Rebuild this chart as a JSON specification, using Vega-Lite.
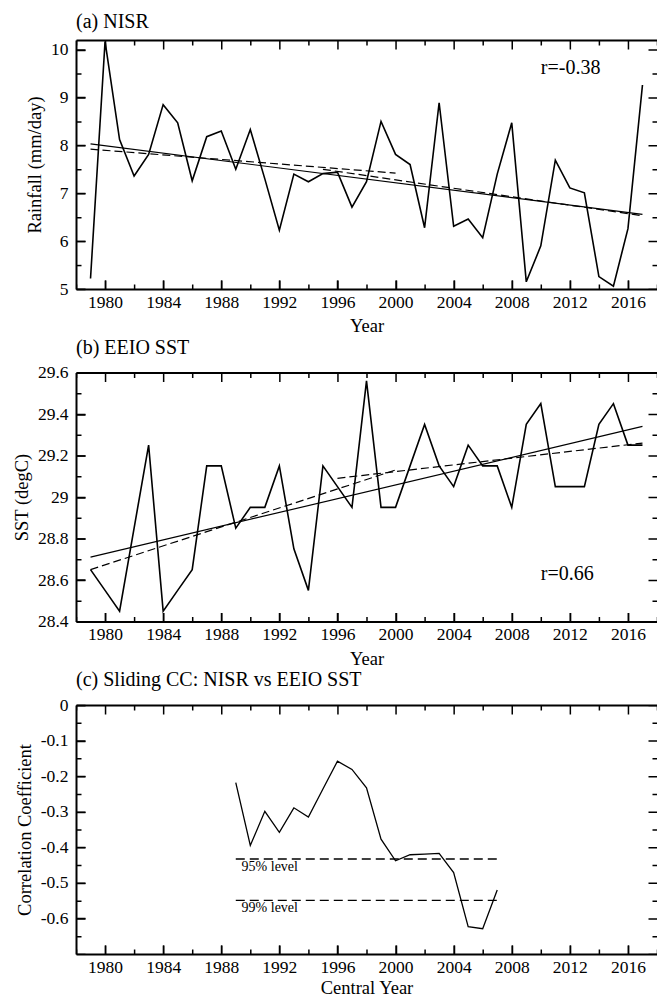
{
  "$schema": "https://vega.github.io/schema/vega-lite/v6.json",
  "padding": {"left": 12, "top": 12, "right": 0, "bottom": 0},
  "spacing": 2.5,
  "config": {
    "view": {"stroke": null},
    "font": "Liberation Serif",
    "axis": {"grid": false, "domainColor": "black", "domainWidth": 2, "domainCap": "butt", "tickColor": "black", "tickWidth": 1.5, "labelColor": "black", "titleColor": "black", "labelFont": "Liberation Serif", "titleFont": "Liberation Serif", "labelFontSize": 17.5, "titleFontSize": 18.5, "titleFontWeight": "normal", "labelFlush": false, "labelOverlap": false},
    "title": {"font": "Liberation Serif", "fontSize": 20, "fontWeight": "normal", "color": "black", "anchor": "start", "frame": "group", "offset": 6}
  },
  "datasets": {
    "nisr": [
      {"year": 1979, "value": 5.22}, {"year": 1980, "value": 10.17}, {"year": 1981, "value": 8.12}, {"year": 1982, "value": 7.36},
      {"year": 1983, "value": 7.81}, {"year": 1984, "value": 8.85}, {"year": 1985, "value": 8.47}, {"year": 1986, "value": 7.26},
      {"year": 1987, "value": 8.18}, {"year": 1988, "value": 8.30}, {"year": 1989, "value": 7.50}, {"year": 1990, "value": 8.33},
      {"year": 1991, "value": 7.30}, {"year": 1992, "value": 6.23}, {"year": 1993, "value": 7.40}, {"year": 1994, "value": 7.24},
      {"year": 1995, "value": 7.41}, {"year": 1996, "value": 7.44}, {"year": 1997, "value": 6.71}, {"year": 1998, "value": 7.24},
      {"year": 1999, "value": 8.50}, {"year": 2000, "value": 7.81}, {"year": 2001, "value": 7.60}, {"year": 2002, "value": 6.28},
      {"year": 2003, "value": 8.89}, {"year": 2004, "value": 6.31}, {"year": 2005, "value": 6.46}, {"year": 2006, "value": 6.07},
      {"year": 2007, "value": 7.40}, {"year": 2008, "value": 8.47}, {"year": 2009, "value": 5.15}, {"year": 2010, "value": 5.90},
      {"year": 2011, "value": 7.69}, {"year": 2012, "value": 7.11}, {"year": 2013, "value": 7.01}, {"year": 2014, "value": 5.26},
      {"year": 2015, "value": 5.06}, {"year": 2016, "value": 6.26}, {"year": 2017, "value": 9.26}
    ],
    "sst": [
      {"year": 1979, "value": 28.65}, {"year": 1980, "value": 28.55}, {"year": 1981, "value": 28.45}, {"year": 1982, "value": 28.85},
      {"year": 1983, "value": 29.25}, {"year": 1984, "value": 28.45}, {"year": 1985, "value": 28.55}, {"year": 1986, "value": 28.65},
      {"year": 1987, "value": 29.15}, {"year": 1988, "value": 29.15}, {"year": 1989, "value": 28.85}, {"year": 1990, "value": 28.95},
      {"year": 1991, "value": 28.95}, {"year": 1992, "value": 29.15}, {"year": 1993, "value": 28.75}, {"year": 1994, "value": 28.55},
      {"year": 1995, "value": 29.15}, {"year": 1996, "value": 29.05}, {"year": 1997, "value": 28.95}, {"year": 1998, "value": 29.56},
      {"year": 1999, "value": 28.95}, {"year": 2000, "value": 28.95}, {"year": 2001, "value": 29.15}, {"year": 2002, "value": 29.35},
      {"year": 2003, "value": 29.15}, {"year": 2004, "value": 29.05}, {"year": 2005, "value": 29.25}, {"year": 2006, "value": 29.15},
      {"year": 2007, "value": 29.15}, {"year": 2008, "value": 28.95}, {"year": 2009, "value": 29.35}, {"year": 2010, "value": 29.45},
      {"year": 2011, "value": 29.05}, {"year": 2012, "value": 29.05}, {"year": 2013, "value": 29.05}, {"year": 2014, "value": 29.35},
      {"year": 2015, "value": 29.45}, {"year": 2016, "value": 29.25}, {"year": 2017, "value": 29.25}
    ],
    "cc": [
      {"year": 1989, "value": -0.218}, {"year": 1990, "value": -0.395}, {"year": 1991, "value": -0.299}, {"year": 1992, "value": -0.358},
      {"year": 1993, "value": -0.289}, {"year": 1994, "value": -0.315}, {"year": 1995, "value": -0.236}, {"year": 1996, "value": -0.158},
      {"year": 1997, "value": -0.181}, {"year": 1998, "value": -0.233}, {"year": 1999, "value": -0.377}, {"year": 2000, "value": -0.438},
      {"year": 2001, "value": -0.421}, {"year": 2002, "value": -0.419}, {"year": 2003, "value": -0.417}, {"year": 2004, "value": -0.471},
      {"year": 2005, "value": -0.623}, {"year": 2006, "value": -0.629}, {"year": 2007, "value": -0.52}
    ],
    "trend_a": [
      {"year": 1979, "value": 8.03, "kind": "linear"}, {"year": 2017, "value": 6.56, "kind": "linear"},
      {"year": 1979, "value": 7.92, "kind": "s1"}, {"year": 2000, "value": 7.42, "kind": "s1"},
      {"year": 1995, "value": 7.50, "kind": "s2"}, {"year": 2017, "value": 6.53, "kind": "s2"}
    ],
    "trend_b": [
      {"year": 1979, "value": 28.71, "kind": "linear"}, {"year": 2017, "value": 29.34, "kind": "linear"},
      {"year": 1979, "value": 28.65, "kind": "s1"}, {"year": 2000, "value": 29.13, "kind": "s1"},
      {"year": 1996, "value": 29.09, "kind": "s2"}, {"year": 2017, "value": 29.26, "kind": "s2"}
    ],
    "levels": [
      {"year": 1989, "value": -0.433, "level": "95"}, {"year": 2007, "value": -0.433, "level": "95"},
      {"year": 1989, "value": -0.549, "level": "99"}, {"year": 2007, "value": -0.549, "level": "99"}
    ],
    "level_labels": [
      {"year": 1989.4, "value": -0.456, "level": "95", "label": "95% level"},
      {"year": 1989.4, "value": -0.572, "level": "99", "label": "99% level"}
    ],
    "notes": [
      {"panel": "a", "year": 2010.0, "value": 9.625, "label": "r=-0.38"},
      {"panel": "b", "year": 2010.0, "value": 28.63, "label": "r=0.66"}
    ]
  },
  "vconcat": [
    {
      "width": 581, "height": 249,
      "title": {"text": "(a) NISR"},
      "resolve": {"axis": {"x": "independent", "y": "independent"}},
      "layer": [
        {
          "data": {"name": "nisr"},
          "mark": {"type": "line", "color": "black", "strokeWidth": 1.6},
          "encoding": {
            "x": {"field": "year", "type": "quantitative", "scale": {"domain": [1978, 2018], "nice": false, "zero": false},
              "axis": {"orient": "bottom", "offset": -9, "tickSize": 9, "domain": false, "values": [1980, 1984, 1988, 1992, 1996, 2000, 2004, 2008, 2012, 2016], "labelExpr": "'' + datum.value", "labelPadding": 4, "title": "Year", "titlePadding": 6}},
            "y": {"field": "value", "type": "quantitative", "scale": {"domain": [5, 10.2], "nice": false, "zero": false},
              "axis": {"orient": "left", "offset": -9, "tickSize": 9, "domain": false, "values": [5, 6, 7, 8, 9, 10], "labelExpr": "'' + datum.value", "labelPadding": 8, "title": "Rainfall (mm/day)", "titlePadding": 6}}
          }
        },
        {
          "data": {"name": "trend_a"},
          "transform": [{"filter": "datum.kind === 'linear'"}],
          "mark": {"type": "line", "color": "black", "strokeWidth": 1.2},
          "encoding": {
            "x": {"field": "year", "type": "quantitative", "axis": {"orient": "bottom", "ticks": false, "labels": false, "title": null, "domain": true}},
            "y": {"field": "value", "type": "quantitative", "axis": {"orient": "left", "ticks": false, "labels": false, "title": null, "domain": true}}
          }
        },
        {
          "data": {"name": "trend_a"},
          "transform": [{"filter": "datum.kind === 's1'"}],
          "mark": {"type": "line", "color": "black", "strokeWidth": 1.2, "strokeDash": [8, 4]},
          "encoding": {
            "x": {"field": "year", "type": "quantitative", "axis": {"orient": "top", "ticks": false, "labels": false, "title": null, "domain": true}},
            "y": {"field": "value", "type": "quantitative", "axis": {"orient": "left", "offset": -4.5, "ticks": false, "labels": false, "title": null, "domain": true, "domainWidth": 9, "domainDash": [1.5, 46.385], "domainDashOffset": 0.75}}
          }
        },
        {
          "data": {"name": "trend_a"},
          "transform": [{"filter": "datum.kind === 's2'"}],
          "mark": {"type": "line", "color": "black", "strokeWidth": 1.2, "strokeDash": [8, 4]},
          "encoding": {
            "x": {"field": "year", "type": "quantitative", "axis": {"orient": "bottom", "offset": -4.5, "ticks": false, "labels": false, "title": null, "domain": true, "domainWidth": 9, "domainDash": [1.5, 56.6], "domainDashOffset": 29.8}},
            "y": {"field": "value", "type": "quantitative", "axis": {"orient": "left", "offset": -2.5, "ticks": false, "labels": false, "title": null, "domain": true, "domainWidth": 5, "domainDash": [1.5, 46.385], "domainDashOffset": 24.69}}
          }
        },
        {
          "data": {"name": "notes"},
          "transform": [{"filter": "datum.panel === 'a'"}],
          "mark": {"type": "text", "align": "left", "baseline": "middle", "fontSize": 20, "font": "Liberation Serif", "color": "black"},
          "encoding": {
            "text": {"field": "label"},
            "x": {"field": "year", "type": "quantitative", "axis": {"orient": "bottom", "offset": -2.5, "ticks": false, "labels": false, "title": null, "domain": true, "domainWidth": 5, "domainDash": [1.5, 56.6], "domainDashOffset": 0.75}},
            "y": {"field": "value", "type": "quantitative", "axis": {"orient": "right", "offset": -4.5, "ticks": false, "labels": false, "title": null, "domain": true, "domainWidth": 9, "domainDash": [1.5, 46.385], "domainDashOffset": 0.75}}
          }
        },
        {
          "data": {"name": "nisr"},
          "mark": {"type": "point", "opacity": 0},
          "encoding": {
            "x": {"field": "year", "type": "quantitative", "axis": {"orient": "top", "offset": -4.5, "ticks": false, "labels": false, "title": null, "domain": true, "domainWidth": 9, "domainDash": [1.5, 56.6], "domainDashOffset": 29.8}},
            "y": {"field": "value", "type": "quantitative", "axis": {"orient": "right", "offset": -2.5, "ticks": false, "labels": false, "title": null, "domain": true, "domainWidth": 5, "domainDash": [1.5, 46.385], "domainDashOffset": 24.69}}
          }
        },
        {
          "data": {"name": "nisr"},
          "mark": {"type": "point", "opacity": 0},
          "encoding": {
            "x": {"field": "year", "type": "quantitative", "axis": {"orient": "top", "offset": -2.5, "ticks": false, "labels": false, "title": null, "domain": true, "domainWidth": 5, "domainDash": [1.5, 56.6], "domainDashOffset": 0.75}},
            "y": {"field": "value", "type": "quantitative", "axis": null}
          }
        }
      ]
    },
    {
      "width": 581, "height": 249,
      "title": {"text": "(b) EEIO SST"},
      "resolve": {"axis": {"x": "independent", "y": "independent"}},
      "layer": [
        {
          "data": {"name": "sst"},
          "mark": {"type": "line", "color": "black", "strokeWidth": 1.6},
          "encoding": {
            "x": {"field": "year", "type": "quantitative", "scale": {"domain": [1978, 2018], "nice": false, "zero": false},
              "axis": {"orient": "bottom", "offset": -9, "tickSize": 9, "domain": false, "values": [1980, 1984, 1988, 1992, 1996, 2000, 2004, 2008, 2012, 2016], "labelExpr": "'' + datum.value", "labelPadding": 4, "title": "Year", "titlePadding": 6}},
            "y": {"field": "value", "type": "quantitative", "scale": {"domain": [28.4, 29.6], "nice": false, "zero": false},
              "axis": {"orient": "left", "offset": -9, "tickSize": 9, "domain": false, "values": [28.4, 28.6, 28.8, 29, 29.2, 29.4, 29.6], "labelExpr": "'' + datum.value", "labelPadding": 8, "title": "SST (degC)", "titlePadding": 6}}
          }
        },
        {
          "data": {"name": "trend_b"},
          "transform": [{"filter": "datum.kind === 'linear'"}],
          "mark": {"type": "line", "color": "black", "strokeWidth": 1.2},
          "encoding": {
            "x": {"field": "year", "type": "quantitative", "axis": {"orient": "bottom", "ticks": false, "labels": false, "title": null, "domain": true}},
            "y": {"field": "value", "type": "quantitative", "axis": {"orient": "left", "ticks": false, "labels": false, "title": null, "domain": true}}
          }
        },
        {
          "data": {"name": "trend_b"},
          "transform": [{"filter": "datum.kind === 's1'"}],
          "mark": {"type": "line", "color": "black", "strokeWidth": 1.2, "strokeDash": [8, 4]},
          "encoding": {
            "x": {"field": "year", "type": "quantitative", "axis": {"orient": "top", "ticks": false, "labels": false, "title": null, "domain": true}},
            "y": {"field": "value", "type": "quantitative", "axis": {"orient": "left", "offset": -4.5, "ticks": false, "labels": false, "title": null, "domain": true, "domainWidth": 9, "domainDash": [1.5, 40], "domainDashOffset": 0.75}}
          }
        },
        {
          "data": {"name": "trend_b"},
          "transform": [{"filter": "datum.kind === 's2'"}],
          "mark": {"type": "line", "color": "black", "strokeWidth": 1.2, "strokeDash": [8, 4]},
          "encoding": {
            "x": {"field": "year", "type": "quantitative", "axis": {"orient": "bottom", "offset": -4.5, "ticks": false, "labels": false, "title": null, "domain": true, "domainWidth": 9, "domainDash": [1.5, 56.6], "domainDashOffset": 29.8}},
            "y": {"field": "value", "type": "quantitative", "axis": {"orient": "left", "offset": -2.5, "ticks": false, "labels": false, "title": null, "domain": true, "domainWidth": 5, "domainDash": [1.5, 40], "domainDashOffset": 21.5}}
          }
        },
        {
          "data": {"name": "notes"},
          "transform": [{"filter": "datum.panel === 'b'"}],
          "mark": {"type": "text", "align": "left", "baseline": "middle", "fontSize": 20, "font": "Liberation Serif", "color": "black"},
          "encoding": {
            "text": {"field": "label"},
            "x": {"field": "year", "type": "quantitative", "axis": {"orient": "bottom", "offset": -2.5, "ticks": false, "labels": false, "title": null, "domain": true, "domainWidth": 5, "domainDash": [1.5, 56.6], "domainDashOffset": 0.75}},
            "y": {"field": "value", "type": "quantitative", "axis": {"orient": "right", "offset": -4.5, "ticks": false, "labels": false, "title": null, "domain": true, "domainWidth": 9, "domainDash": [1.5, 40], "domainDashOffset": 0.75}}
          }
        },
        {
          "data": {"name": "sst"},
          "mark": {"type": "point", "opacity": 0},
          "encoding": {
            "x": {"field": "year", "type": "quantitative", "axis": {"orient": "top", "offset": -4.5, "ticks": false, "labels": false, "title": null, "domain": true, "domainWidth": 9, "domainDash": [1.5, 56.6], "domainDashOffset": 29.8}},
            "y": {"field": "value", "type": "quantitative", "axis": {"orient": "right", "offset": -2.5, "ticks": false, "labels": false, "title": null, "domain": true, "domainWidth": 5, "domainDash": [1.5, 40], "domainDashOffset": 21.5}}
          }
        },
        {
          "data": {"name": "sst"},
          "mark": {"type": "point", "opacity": 0},
          "encoding": {
            "x": {"field": "year", "type": "quantitative", "axis": {"orient": "top", "offset": -2.5, "ticks": false, "labels": false, "title": null, "domain": true, "domainWidth": 5, "domainDash": [1.5, 56.6], "domainDashOffset": 0.75}},
            "y": {"field": "value", "type": "quantitative", "axis": null}
          }
        }
      ]
    },
    {
      "width": 581, "height": 249,
      "title": {"text": "(c) Sliding CC: NISR vs EEIO SST"},
      "resolve": {"axis": {"x": "independent", "y": "independent"}},
      "layer": [
        {
          "data": {"name": "cc"},
          "mark": {"type": "line", "color": "black", "strokeWidth": 1.3},
          "encoding": {
            "x": {"field": "year", "type": "quantitative", "scale": {"domain": [1978, 2018], "nice": false, "zero": false},
              "axis": {"orient": "bottom", "offset": -9, "tickSize": 9, "domain": false, "values": [1980, 1984, 1988, 1992, 1996, 2000, 2004, 2008, 2012, 2016], "labelExpr": "'' + datum.value", "labelPadding": 4, "title": "Central Year", "titlePadding": 3}},
            "y": {"field": "value", "type": "quantitative", "scale": {"domain": [-0.7, 0], "nice": false, "zero": false},
              "axis": {"orient": "left", "offset": -9, "tickSize": 9, "domain": false, "values": [0, -0.1, -0.2, -0.3, -0.4, -0.5, -0.6], "labelExpr": "'' + datum.value", "labelPadding": 8, "title": "Correlation Coefficient", "titlePadding": 6}}
          }
        },
        {
          "data": {"name": "levels"},
          "transform": [{"filter": "datum.level === '95'"}],
          "mark": {"type": "line", "color": "black", "strokeWidth": 1.3, "strokeDash": [9, 5]},
          "encoding": {
            "x": {"field": "year", "type": "quantitative", "axis": {"orient": "bottom", "ticks": false, "labels": false, "title": null, "domain": true}},
            "y": {"field": "value", "type": "quantitative", "axis": {"orient": "left", "ticks": false, "labels": false, "title": null, "domain": true}}
          }
        },
        {
          "data": {"name": "levels"},
          "transform": [{"filter": "datum.level === '99'"}],
          "mark": {"type": "line", "color": "black", "strokeWidth": 1.3, "strokeDash": [9, 5]},
          "encoding": {
            "x": {"field": "year", "type": "quantitative", "axis": {"orient": "top", "ticks": false, "labels": false, "title": null, "domain": true}},
            "y": {"field": "value", "type": "quantitative", "axis": {"orient": "left", "offset": -4.5, "ticks": false, "labels": false, "title": null, "domain": true, "domainWidth": 9, "domainDash": [1.5, 34.071], "domainDashOffset": 0.75}}
          }
        },
        {
          "data": {"name": "level_labels"},
          "transform": [{"filter": "datum.level === '95'"}],
          "mark": {"type": "text", "align": "left", "baseline": "middle", "fontSize": 14, "font": "Liberation Serif", "color": "black"},
          "encoding": {
            "text": {"field": "label"},
            "x": {"field": "year", "type": "quantitative", "axis": {"orient": "bottom", "offset": -4.5, "ticks": false, "labels": false, "title": null, "domain": true, "domainWidth": 9, "domainDash": [1.5, 56.6], "domainDashOffset": 29.8}},
            "y": {"field": "value", "type": "quantitative", "axis": {"orient": "left", "offset": -2.5, "ticks": false, "labels": false, "title": null, "domain": true, "domainWidth": 5, "domainDash": [1.5, 34.071], "domainDashOffset": 18.535}}
          }
        },
        {
          "data": {"name": "level_labels"},
          "transform": [{"filter": "datum.level === '99'"}],
          "mark": {"type": "text", "align": "left", "baseline": "middle", "fontSize": 14, "font": "Liberation Serif", "color": "black"},
          "encoding": {
            "text": {"field": "label"},
            "x": {"field": "year", "type": "quantitative", "axis": {"orient": "bottom", "offset": -2.5, "ticks": false, "labels": false, "title": null, "domain": true, "domainWidth": 5, "domainDash": [1.5, 56.6], "domainDashOffset": 0.75}},
            "y": {"field": "value", "type": "quantitative", "axis": {"orient": "right", "offset": -4.5, "ticks": false, "labels": false, "title": null, "domain": true, "domainWidth": 9, "domainDash": [1.5, 34.071], "domainDashOffset": 0.75}}
          }
        },
        {
          "data": {"name": "cc"},
          "mark": {"type": "point", "opacity": 0},
          "encoding": {
            "x": {"field": "year", "type": "quantitative", "axis": {"orient": "top", "offset": -4.5, "ticks": false, "labels": false, "title": null, "domain": true, "domainWidth": 9, "domainDash": [1.5, 56.6], "domainDashOffset": 29.8}},
            "y": {"field": "value", "type": "quantitative", "axis": {"orient": "right", "offset": -2.5, "ticks": false, "labels": false, "title": null, "domain": true, "domainWidth": 5, "domainDash": [1.5, 34.071], "domainDashOffset": 18.535}}
          }
        },
        {
          "data": {"name": "cc"},
          "mark": {"type": "point", "opacity": 0},
          "encoding": {
            "x": {"field": "year", "type": "quantitative", "axis": {"orient": "top", "offset": -2.5, "ticks": false, "labels": false, "title": null, "domain": true, "domainWidth": 5, "domainDash": [1.5, 56.6], "domainDashOffset": 0.75}},
            "y": {"field": "value", "type": "quantitative", "axis": null}
          }
        }
      ]
    }
  ]
}
